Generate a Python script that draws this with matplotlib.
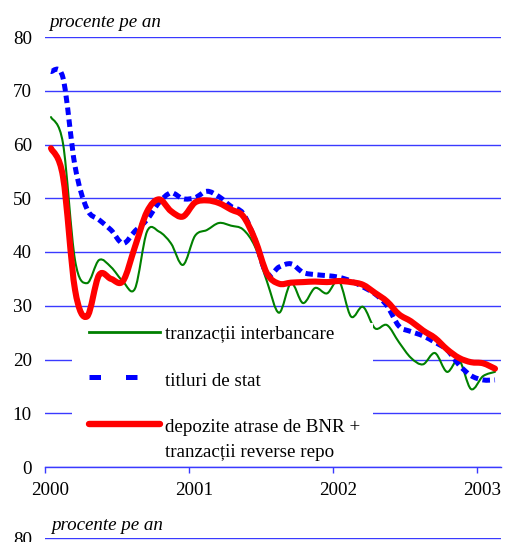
import numpy as np
import matplotlib
matplotlib.use("Agg")
import matplotlib.pyplot as plt
from matplotlib.path import Path
from matplotlib.patches import PathPatch, Rectangle
from matplotlib.lines import Line2D
import matplotlib.transforms as mtransforms

# ---- data (monthly, Jan 2000 - Feb 2003) ----
months = [f"{2000 + i // 12}-{i % 12 + 1:02d}" for i in range(38)]

interbancare = [65.1, 60.2, 38.5, 34.2, 38.5, 37.2, 34.5, 33.2, 43.8, 43.8,
                41.6, 37.6, 43.0, 44.1, 45.4, 44.9, 44.2, 41.0, 34.5, 28.7,
                34.2, 30.5, 33.3, 32.3, 34.6, 28.0, 29.8, 25.8, 26.4, 23.2,
                20.3, 19.1, 21.2, 17.7, 19.9, 14.5, 16.9, 17.7]

titluri = [73.6, 72.4, 56.0, 48.0, 46.0, 44.1, 41.6, 43.9, 46.0, 49.2,
           51.0, 49.9, 50.1, 51.3, 50.3, 48.5, 47.2, 42.3, 35.8, 37.2,
           37.8, 36.2, 35.8, 35.6, 35.3, 34.6, 33.5, 32.2, 30.0, 26.2,
           25.2, 24.4, 23.2, 21.8, 19.0, 17.0, 16.2, 16.2]

depozite = [59.3, 54.0, 33.0, 28.0, 35.7, 35.0, 34.6, 41.0, 47.5, 49.8,
            47.6, 46.6, 49.2, 49.6, 49.1, 47.9, 46.7, 42.3, 36.0, 34.1,
            34.3, 34.4, 34.5, 34.4, 34.6, 34.4, 33.9, 32.4, 30.8, 28.4,
            27.1, 25.4, 24.0, 21.9, 20.3, 19.5, 19.3, 18.3]

labels = ["tranzacții interbancare", "titluri de stat",
          "depozite atrase de BNR +", "tranzacții reverse repo"]
year_ticks = [2000, 2001, 2002, 2003]
y_ticks = [0, 10, 20, 30, 40, 50, 60, 70, 80]
unit_label = "procente pe an"

# ---- style ----
FONT = "Liberation Serif"
FS = 13.7
GRID = "#3a3aff"
plt.rcParams["font.family"] = [FONT, "DejaVu Serif"]

W, H = 505, 542
fig = plt.figure(figsize=(W / 100, H / 100), dpi=100)


def px_axes(left, top, right, bottom):
    return [left / W, 1 - bottom / H, (right - left) / W, (bottom - top) / H]


def smooth_path(x, y):
    x = np.asarray(x, float)
    y = np.asarray(y, float)
    n = len(x)
    P = np.column_stack([x, y])
    verts = [P[0]]
    codes = [Path.MOVETO]
    for i in range(n - 1):
        p0 = P[i - 1] if i > 0 else P[i]
        p1 = P[i]
        p2 = P[i + 1]
        p3 = P[i + 2] if i + 2 < n else P[i + 1]
        c1 = p1 + (p2 - p0) / 6.0
        c2 = p2 - (p3 - p1) / 6.0
        verts += [c1, c2, p2]
        codes += [Path.CURVE4] * 3
    return Path(np.array(verts), codes)


def style_axes(ax, full=True):
    ax.set_ylim(0, 80)
    ax.set_xlim(2000, 2000 + 38 / 12)
    ax.set_yticks(y_ticks)
    ax.yaxis.grid(True, color=GRID, lw=1.0)
    ax.set_axisbelow(True)
    for s in ["left", "right", "top"]:
        ax.spines[s].set_visible(False)
    ax.spines["bottom"].set_color(GRID)
    ax.spines["bottom"].set_linewidth(1.0)
    ax.tick_params(axis="y", length=0, pad=9.5, labelsize=FS)
    ax.tick_params(axis="x", direction="out", length=4.3, width=1.0,
                   color=GRID, pad=6.5, labelsize=FS)
    ax.set_xticks(year_ticks)
    if full:
        ax.set_xticklabels([str(y) for y in year_ticks])
        offset = mtransforms.ScaledTranslation(5 / 100, 0, fig.dpi_scale_trans)
        for lab in ax.get_xticklabels():
            lab.set_transform(lab.get_transform() + offset)
    else:
        ax.tick_params(axis="x", labelbottom=False)
        ax.set_yticklabels([str(v) if v == 80 else "" for v in y_ticks])


ax = fig.add_axes(px_axes(45, 37, 501, 467))
style_axes(ax)

xs = [2000 + (i + 0.5) / 12 for i in range(len(months))]

green = PathPatch(smooth_path(xs, interbancare), fill=False, edgecolor="#008000",
                  lw=1.5, capstyle="round", joinstyle="round", zorder=3)
blue = PathPatch(smooth_path(xs, titluri), fill=False, edgecolor="#0000ff",
                 lw=3.6, linestyle=(0, (1.5, 0.9)), capstyle="butt",
                 joinstyle="round", zorder=4)
red = PathPatch(smooth_path(xs, depozite), fill=False, edgecolor="#ff0000",
                lw=4.4, capstyle="round", joinstyle="round", zorder=5)
for p in (green, blue, red):
    ax.add_patch(p)

# ---- legend (manual, inside plot) ----
def ax_x(px):
    return (px - 45) / 456


def ax_y(py):
    return (467 - py) / 430


ax.add_patch(Rectangle((ax_x(72.3), ax_y(465)), ax_x(373.3) - ax_x(72.3),
                       ax_y(323) - ax_y(465), transform=ax.transAxes,
                       facecolor="white", edgecolor="none", zorder=6))
hx = [ax_x(89), ax_x(160)]
ax.add_line(Line2D(hx, [ax_y(332.3)] * 2, transform=ax.transAxes,
                   color="#008000", lw=2.0, zorder=7))
ax.add_line(Line2D(hx, [ax_y(377.3)] * 2, transform=ax.transAxes,
                   color="#0000ff", lw=3.6, dashes=(2.3, 5.0),
                   dash_capstyle="butt", zorder=7))
ax.add_line(Line2D(hx, [ax_y(424)] * 2, transform=ax.transAxes,
                   color="#ff0000", lw=4.6, solid_capstyle="round", zorder=7))
tx = ax_x(165)
for lab, py in zip(labels, [338.3, 386, 431.7, 456.7]):
    ax.text(tx, ax_y(py), lab, transform=ax.transAxes, fontsize=FS,
            va="baseline", ha="left", zorder=8)

fig.text(49 / W, 1 - 27.3 / H, unit_label, fontsize=FS, style="italic",
         va="baseline", ha="left")

# ---- top of the next chart (cut off at the bottom) ----
ax2 = fig.add_axes(px_axes(45, 538.3, 501, 968.3))
style_axes(ax2, full=False)
fig.text(51.5 / W, 1 - 530 / H, unit_label, fontsize=FS, style="italic",
         va="baseline", ha="left")

fig.savefig("out.png", dpi=100)
